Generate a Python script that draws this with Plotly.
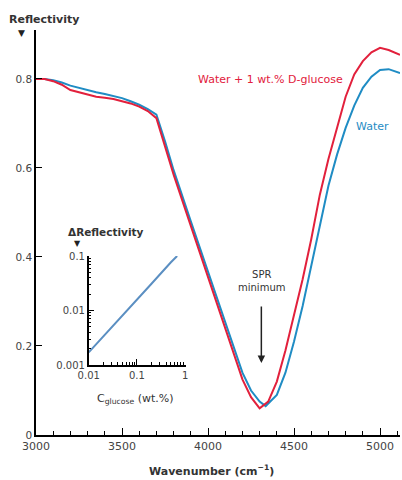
import plotly.graph_objects as go

# ---- data ----
wn_red = [3000, 3050, 3100, 3150, 3200, 3250, 3300, 3350, 3400, 3450, 3500, 3550, 3600, 3650, 3700,
          3750, 3800, 3900, 4000, 4100, 4150, 4200, 4250, 4300,
          4350, 4400, 4450, 4500, 4550, 4600, 4650, 4700, 4750, 4800, 4850, 4900, 4950, 5000, 5050, 5116]
r_red = [0.800, 0.800, 0.795, 0.787, 0.775, 0.770, 0.765, 0.760, 0.758, 0.755, 0.750, 0.745, 0.738, 0.728, 0.712,
         0.650, 0.585, 0.470, 0.355, 0.240, 0.180, 0.125, 0.085, 0.060,
         0.075, 0.120, 0.190, 0.270, 0.350, 0.440, 0.540, 0.620, 0.690, 0.760, 0.810, 0.840, 0.860, 0.870, 0.865, 0.854]

wn_blue = [3000, 3050, 3100, 3150, 3200, 3250, 3300, 3350, 3400, 3450, 3500, 3550, 3600, 3650, 3700,
           3750, 3800, 3900, 4000, 4100, 4150, 4200, 4250, 4300, 4335,
           4400, 4450, 4500, 4550, 4600, 4650, 4700, 4750, 4800, 4850, 4900, 4950, 5000, 5050, 5116]
r_blue = [0.800, 0.800, 0.797, 0.792, 0.785, 0.780, 0.774, 0.770, 0.766, 0.762, 0.757, 0.750, 0.742, 0.732, 0.720,
          0.660, 0.595, 0.480, 0.365, 0.250, 0.195, 0.140, 0.100, 0.075, 0.065,
          0.090, 0.140, 0.210, 0.290, 0.380, 0.470, 0.560, 0.630, 0.690, 0.740, 0.780, 0.805, 0.820, 0.822, 0.813]

c_glucose = [0.01, 0.02, 0.05, 0.1, 0.2, 0.5, 0.68]
d_refl = [0.0017, 0.0033, 0.0080, 0.0160, 0.0310, 0.0760, 0.1000]

x_ticks = [3000, 3500, 4000, 4500, 5000]
y_ticks = [0, 0.2, 0.4, 0.6, 0.8]
y_tick_text = ["0", "0.2", "0.4", "0.6", "0.8"]
ix_ticks = [0.01, 0.1, 1]
ix_text = ["0.01", "0.1", "1"]
iy_ticks = [0.001, 0.01, 0.1]
iy_text = ["0.001", "0.01", "0.1"]

RED = "#e2203c"
BLUE = "#1f8cc4"
INSET = "#5b8fc2"
FONT = "DejaVu Sans, Arial, sans-serif"

# log minor tick positions (2..9 within each decade)
ix_minor = [k * 10.0 ** e for e in (-2, -1) for k in range(2, 10)]
iy_minor = [k * 10.0 ** e for e in (-3, -2) for k in range(2, 10)]

# pixel helpers relative to plot area (x 36..402, y 30..435)
def px(x):
    return (x - 36) / 366.0

def py(y):
    return (435 - y) / 405.0

fig = go.Figure()
fig.add_trace(go.Scatter(x=wn_blue, y=r_blue, mode="lines", line=dict(color=BLUE, width=2),
                         showlegend=False, hoverinfo="skip"))
fig.add_trace(go.Scatter(x=wn_red, y=r_red, mode="lines", line=dict(color=RED, width=2),
                         showlegend=False, hoverinfo="skip"))
fig.add_trace(go.Scatter(x=c_glucose, y=d_refl, mode="lines", line=dict(color=INSET, width=2),
                         xaxis="x2", yaxis="y2", showlegend=False, hoverinfo="skip"))

fig.update_layout(
    width=402, height=480,
    margin=dict(l=36, r=0, t=30, b=45),
    paper_bgcolor="white", plot_bgcolor="white",
    font=dict(family=FONT, size=11, color="#333"),
    xaxis=dict(range=[3000, 5116], showgrid=False, zeroline=False,
               showline=True, linecolor="black", linewidth=1.5,
               tickvals=x_ticks, ticks="inside", ticklen=7, tickcolor="black",
               minor=dict(dtick=100, ticks="inside", ticklen=4, tickcolor="black", showgrid=False),
               tickfont=dict(size=11, color="#444")),
    yaxis=dict(range=[0, 0.91], showgrid=False, zeroline=False,
               showline=True, linecolor="black", linewidth=1.5,
               tickvals=y_ticks, ticktext=y_tick_text, ticks="inside", ticklen=6, tickcolor="black",
               tickfont=dict(size=10.5, color="#444")),
    xaxis2=dict(type="log", domain=[px(89), px(187)], range=[-2, 0.02], anchor="y2",
                showgrid=False, zeroline=False, showline=True, linecolor="black", linewidth=1.5,
                tickmode="array", tickvals=ix_ticks, ticktext=ix_text, ticks="inside", ticklen=6, tickcolor="black",
                minor=dict(tickmode="array", tickvals=ix_minor, ticks="inside", ticklen=3,
                           tickcolor="black", showgrid=False),
                tickfont=dict(size=10, color="#444")),
    yaxis2=dict(type="log", domain=[py(365), py(256)], range=[-3, -1], anchor="x2",
                showgrid=False, zeroline=False, showline=True, linecolor="black", linewidth=1.5,
                tickmode="array", tickvals=iy_ticks, ticktext=iy_text, ticks="inside", ticklen=6, tickcolor="black",
                minor=dict(tickmode="array", tickvals=iy_minor, ticks="inside", ticklen=3,
                           tickcolor="black", showgrid=False),
                tickfont=dict(size=10, color="#444")),
)

ann = [
    dict(text="<b>Reflectivity</b>", x=px(7), y=py(20), xanchor="left", yanchor="middle",
         font=dict(size=11, color="#333")),
    dict(text="▼", x=px(21), y=py(33), xanchor="center", yanchor="middle",
         font=dict(size=9, color="#222")),
    dict(text="<b>Wavenumber (cm<sup>−1</sup>)</b>", x=px(212), y=py(470), xanchor="center", yanchor="middle",
         font=dict(size=11, color="#333")),
    dict(text="Water + 1 wt.% D-glucose", x=px(347), y=py(79), xanchor="right", yanchor="middle",
         font=dict(size=11, color=RED)),
    dict(text="Water", x=px(356), y=py(127), xanchor="left", yanchor="middle",
         font=dict(size=11, color=BLUE)),
    dict(text="SPR<br>minimum", x=px(263), y=py(281), xanchor="center", yanchor="middle",
         font=dict(size=10, color="#333")),
    dict(text="<b>ΔReflectivity</b>", x=px(106), y=py(232), xanchor="center", yanchor="middle",
         font=dict(size=10.5, color="#333")),
    dict(text="▼", x=px(78), y=py(244), xanchor="center", yanchor="middle",
         font=dict(size=8, color="#222")),
    dict(text="C<sub>glucose</sub> (wt.%)", x=px(136), y=py(399), xanchor="center", yanchor="middle",
         font=dict(size=11, color="#333")),
]
for a in ann:
    a.update(xref="paper", yref="paper", showarrow=False)

ann.append(dict(x=4310, y=(435 - 363) / 445.0, xref="x", yref="y", ax=0, ay=-58,
                showarrow=True, arrowhead=2, arrowsize=1, arrowwidth=1.5, arrowcolor="#222", text=""))

fig.update_layout(annotations=ann)

fig.write_html("out.html", config={"displayModeBar": False},
               post_script="document.body.style.margin='0';document.body.style.overflow='hidden';")
